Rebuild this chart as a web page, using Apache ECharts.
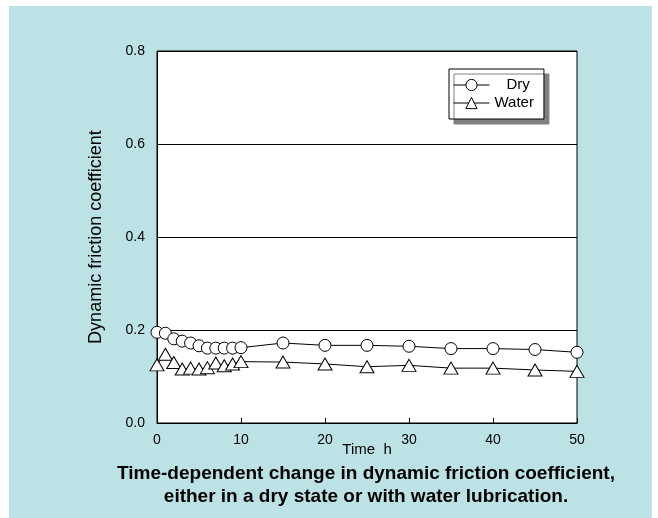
<!DOCTYPE html>
<html>
<head>
<meta charset="utf-8">
<script src="https://cdn.jsdelivr.net/npm/echarts@6/dist/echarts.min.js"></script>
<style>
  html, body { margin: 0; padding: 0; background: #ffffff; }
  #wrap { position: relative; width: 658px; height: 518px; background: #ffffff; overflow: hidden; }
  #main { position: absolute; left: 9px; top: 6px; width: 643px; height: 512px; background: #bde2e5; }
</style>
</head>
<body>
<div id="wrap"><div id="main"></div></div>
<script>
const timeHours = [0, 1, 2, 3, 4, 5, 6, 7, 8, 9, 10, 15, 20, 25, 30, 35, 40, 45, 50];
const dryValues = [0.195, 0.193, 0.181, 0.176, 0.172, 0.166, 0.161, 0.161, 0.161, 0.161, 0.162, 0.172, 0.167, 0.167, 0.165, 0.160, 0.160, 0.158, 0.152];
const waterValues = [0.125, 0.148, 0.130, 0.116, 0.118, 0.116, 0.119, 0.129, 0.123, 0.127, 0.132, 0.131, 0.127, 0.121, 0.124, 0.118, 0.118, 0.114, 0.111];
const seriesNames = ['Dry', 'Water'];
const yTicks = ['0.0', '0.2', '0.4', '0.6', '0.8'];
const xAxisTitle = 'Time  h';
const yAxisTitle = 'Dynamic friction coefficient';
const captionLines = ['Time-dependent change in dynamic friction coefficient,', 'either in a dry state or with water lubrication.'];

const FONT = '"Liberation Sans", Arial, Helvetica, sans-serif';
const chart = echarts.init(document.getElementById('main'), null, { renderer: 'canvas' });

function pairs(xs, ys) { return xs.map((x, i) => [x, ys[i]]); }

chart.setOption({
  backgroundColor: 'transparent',
  animation: false,
  textStyle: { fontFamily: FONT },
  title: {
    text: captionLines.join('\n'),
    left: 352,
    textAlign: 'center',
    top: 451,
    textStyle: { fontFamily: FONT, fontSize: 19, fontWeight: 'bold', color: '#000', lineHeight: 23, align: 'center' }
  },
  grid: {
    left: 148, top: 45, right: 75, bottom: 95,
    show: true, backgroundColor: '#ffffff', borderColor: '#000', borderWidth: 1
  },
  legend: {
    left: 440, top: 63,
    orient: 'vertical',
    padding: [8, 10, 8, 4],
    itemGap: 2,
    itemWidth: 36, itemHeight: 14,
    backgroundColor: '#ffffff',
    borderColor: '#000', borderWidth: 1,
    shadowColor: '#808080', shadowBlur: 0, shadowOffsetX: 5, shadowOffsetY: 5,
    lineStyle: { width: 1, color: '#000' },
    itemStyle: { color: '#ffffff', borderColor: '#000', borderWidth: 1 },
    data: seriesNames,
    formatter: function (n) { return n === 'Dry' ? '{d|' + n + '}' : n; },
    textStyle: {
      fontFamily: FONT, fontSize: 15, color: '#000', lineHeight: 16,
      rich: { d: { fontFamily: FONT, fontSize: 15, color: '#000', padding: [0, 0, 0, 12] } }
    }
  },
  xAxis: {
    type: 'value', min: 0, max: 50, interval: 10,
    name: xAxisTitle, nameLocation: 'middle', nameGap: 19, nameMoveOverlap: false,
    nameTextStyle: { fontFamily: FONT, fontSize: 15, color: '#000' },
    axisLine: { show: true, lineStyle: { color: '#000', width: 1 } },
    axisTick: { show: true, inside: true, length: 5, lineStyle: { color: '#000' } },
    axisLabel: { fontFamily: FONT, fontSize: 14, color: '#000', margin: 10 },
    splitLine: { show: false }
  },
  yAxis: {
    type: 'value', min: 0, max: 0.8, interval: 0.2,
    name: yAxisTitle, nameLocation: 'middle', nameGap: 52, nameRotate: 90, nameMoveOverlap: false,
    nameTextStyle: { fontFamily: FONT, fontSize: 18, color: '#000' },
    axisLine: { show: true, lineStyle: { color: '#000', width: 1 } },
    axisTick: { show: false },
    axisLabel: { fontFamily: FONT, fontSize: 14, color: '#000', margin: 12,
      formatter: function (v) { return yTicks[Math.round(v / 0.2)]; } },
    splitLine: { show: true, lineStyle: { color: '#000', width: 1 } }
  },
  series: [
    {
      name: seriesNames[0], type: 'line', data: pairs(timeHours, dryValues),
      symbol: 'circle', symbolSize: 12, showAllSymbol: true,
      lineStyle: { color: '#000', width: 1 },
      itemStyle: { color: '#ffffff', borderColor: '#000', borderWidth: 1 },
      z: 3
    },
    {
      name: seriesNames[1], type: 'line', data: pairs(timeHours, waterValues),
      symbol: 'triangle', symbolSize: [14, 12], showAllSymbol: true,
      lineStyle: { color: '#000', width: 1 },
      itemStyle: { color: '#ffffff', borderColor: '#000', borderWidth: 1 },
      z: 2
    }
  ]
});
</script>
</body>
</html>
